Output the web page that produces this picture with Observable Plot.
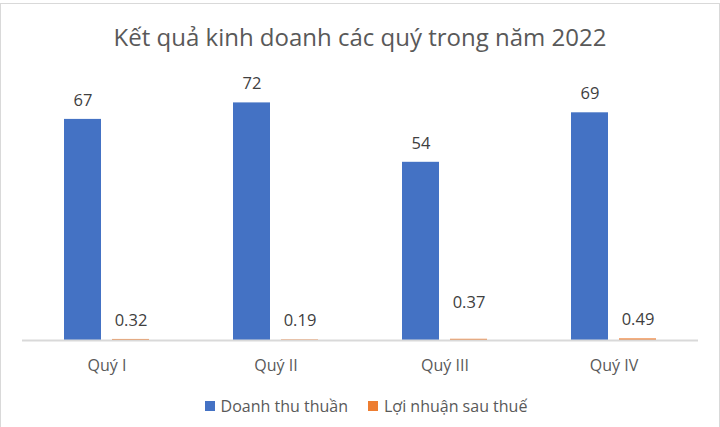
<!DOCTYPE html>
<html>
<head>
<meta charset="utf-8">
<script src="https://cdn.jsdelivr.net/npm/d3@7"></script>
<script src="https://cdn.jsdelivr.net/npm/@observablehq/plot@0.6"></script>
<style>
  html, body { margin: 0; padding: 0; background: #fff; }
  #wrap { position: relative; width: 720px; height: 427px; overflow: hidden; font-family: "Open Sans", sans-serif; }
  #frame { position: absolute; left: 0; top: 3px; width: 720px; height: 430px; border: 1px solid #d9d9d9; box-sizing: border-box; pointer-events: none; }
  #title { height: 50px; padding-top: 12px; line-height: 50px; text-align: center; font-size: 24px; color: #595959; }
  #legend { height: 47px; display: flex; justify-content: center; align-items: center; font-size: 16px; color: #595959; padding-top: 4px; padding-left: 12px; box-sizing: border-box; }
  .item { display: flex; align-items: center; margin: 0 10px; }
  .sw { width: 10px; height: 10px; margin-right: 6px; }
  svg { display: block; }
</style>
</head>
<body>
<div id="wrap">
  <div id="title">Kết quả kinh doanh các quý trong năm 2022</div>
  <div id="chart"></div>
  <div id="legend"></div>
  <div id="frame"></div>
</div>
<script>
const quarters = ["Quý I", "Quý II", "Quý III", "Quý IV"];
const series = ["Doanh thu thuần", "Lợi nhuận sau thuế"];
const revenue = [67, 72, 54, 69];
const profit = [0.32, 0.19, 0.37, 0.49];
const colors = ["#4472C4", "#ED7D31"];

const data = [];
quarters.forEach((q, i) => {
  data.push({quarter: q, series: series[0], value: revenue[i], label: String(revenue[i])});
  data.push({quarter: q, series: series[1], value: profit[i], label: String(profit[i])});
});

const textColor = "#404040";
const isRaised = d => d.series === series[1] && d.quarter === "Quý III";

const chart = Plot.plot({
  width: 720,
  height: 318,
  marginLeft: 22,
  marginRight: 22,
  marginTop: 14,
  marginBottom: 40,
  style: {fontFamily: "'Open Sans', sans-serif", background: "transparent"},
  fx: {domain: quarters, paddingInner: 0, paddingOuter: 0, label: null},
  x: {domain: series, paddingInner: 11 / 49, paddingOuter: 0.837, axis: null},
  y: {domain: [0, 80], axis: null},
  color: {domain: series, range: colors},
  marks: [
    Plot.barY(data, {fx: "quarter", x: "series", y: "value", fill: "series"}),
    Plot.ruleY([0], {stroke: "#d9d9d9", strokeWidth: 2}),
    Plot.text(data.filter(d => !isRaised(d)), {fx: "quarter", x: "series", y: "value", text: "label", dy: -19, fontSize: 16.5, fill: textColor}),
    Plot.text(data.filter(isRaised), {fx: "quarter", x: "series", y: "value", text: "label", dy: -37, fontSize: 16.5, fill: textColor}),
    Plot.axisFx({anchor: "bottom", tickSize: 0, tickPadding: 19, fontSize: 16, color: "#595959", label: null})
  ]
});
document.getElementById("chart").appendChild(chart);

const legend = document.getElementById("legend");
series.forEach((s, i) => {
  const item = document.createElement("div");
  item.className = "item";
  const sw = document.createElement("span");
  sw.className = "sw";
  sw.style.background = colors[i];
  const t = document.createElement("span");
  t.textContent = s;
  item.appendChild(sw);
  item.appendChild(t);
  legend.appendChild(item);
});
</script>
</body>
</html>
